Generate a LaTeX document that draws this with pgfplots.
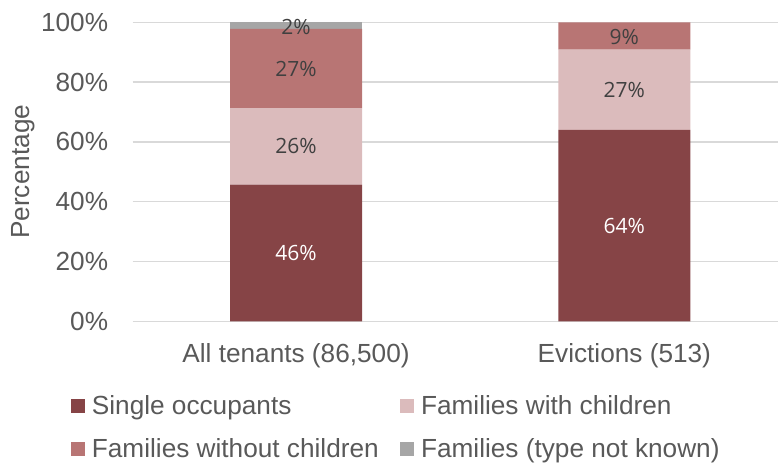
\documentclass[border=0pt]{standalone}
\usepackage{fontspec}
\setmainfont{Liberation Sans}
\newfontfamily\labfont{Open Sans}
\usepackage{pgfplots}
\pgfplotsset{compat=1.18}
\definecolor{cSingle}{HTML}{864446}
\definecolor{cWith}{HTML}{DBBBBC}
\definecolor{cWithout}{HTML}{B87574}
\definecolor{cUnknown}{HTML}{A6A6A6}
\definecolor{cGrid}{HTML}{D9D9D9}
\definecolor{cText}{HTML}{595959}
\definecolor{cLab}{HTML}{404040}
\pgfplotsset{sqlegend/.style={legend image code/.code={\fill[##1] (0pt,-6pt) rectangle (14pt,8pt);}}}
\begin{document}
\begin{tikzpicture}
\useasboundingbox (0,0) rectangle (778pt,-466pt);
\pgfplotsset{common/.style={
  anchor=south west, at={(132.7pt,-321.3pt)},
  scale only axis, width=645.3pt, height=299pt,
  xmin=-0.4974, xmax=1.468, ymin=0, ymax=100,
}}
\begin{axis}[common,
  ybar stacked, bar width=0.402,
  axis line style={draw=none},
  major tick length=0pt,
  ymajorgrids, grid style={cGrid, line width=1.3pt},
  ytick={0,20,...,100},
  /pgf/number format/assume math mode=true,
  yticklabel={\pgfmathprintnumber{\tick}\%},
  xtick={0,1}, xticklabels={{All tenants (86,500)},{Evictions (513)}},
  tick label style={font=\fontsize{26.2}{30}\selectfont, text=cText},
  yticklabel style={anchor=east, inner sep=0pt, xshift=-24.4pt},
  xticklabel style={anchor=base, inner sep=0pt, yshift=-41.4pt},
  ylabel={Percentage},
  ylabel style={at={(axis description cs:-0.1592,0.5)}, anchor=base, font=\fontsize{26.2}{30}\selectfont, text=cText, inner sep=0pt},
  legend columns=2,
  legend cell align=left,
  legend style={at={(axis description cs:-0.0956,-0.2441)}, anchor=north west,
    draw=none, fill=none, inner sep=0pt, row sep=17pt,
    nodes={inner sep=0pt, text height=20pt, text depth=6pt, font=\fontsize{26.2}{30}\selectfont, text=cText},
    /tikz/every odd column/.style={column sep=6.7pt},
    /tikz/every even column/.style={column sep=21.6pt}},
]
\addplot[fill=cSingle, draw=none, sqlegend] coordinates {(0,45.7) (1,64.0)};
\addlegendentry{Single occupants}
\addplot[fill=cWith, draw=none, sqlegend] coordinates {(0,25.6) (1,26.9)};
\addlegendentry{Families with children}
\addplot[fill=cWithout, draw=none, sqlegend] coordinates {(0,26.5) (1,9.1)};
\addlegendentry{Families without children}
\addplot[fill=cUnknown, draw=none, sqlegend] coordinates {(0,2.2) (1,0)};
\addlegendentry{Families (type not known)}
\end{axis}
\begin{axis}[common, hide axis, clip=false]
\addplot[draw=none, mark=none, nodes near coords, point meta=explicit symbolic,
  nodes near coords style={anchor=center, font=\labfont\fontsize{21}{24}\selectfont, text=white}]
  coordinates {(0,22.85) [46\%] (1,32.0) [64\%]};
\addplot[draw=none, mark=none, nodes near coords, point meta=explicit symbolic,
  nodes near coords style={anchor=center, font=\labfont\fontsize{21}{24}\selectfont, text=cLab}]
  coordinates {(0,58.5) [26\%] (0,84.3) [27\%] (0,98.5) [2\%] (1,77.45) [27\%] (1,95.2) [9\%]};
\end{axis}
\end{tikzpicture}
\end{document}
